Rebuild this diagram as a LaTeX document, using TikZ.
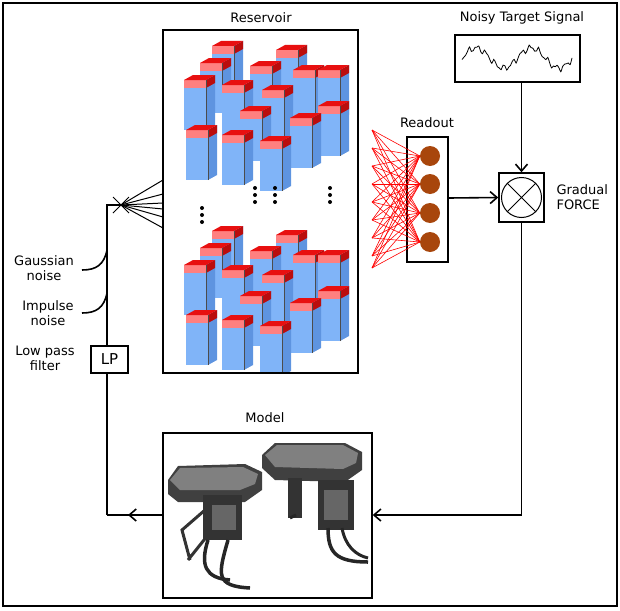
\documentclass[tikz,border=0pt]{standalone}
\usepackage{fontspec}
\setmainfont{DejaVu Sans}
\usetikzlibrary{arrows.meta}
\definecolor{bfront}{HTML}{80B4F8}
\definecolor{bside}{HTML}{5E94E0}
\definecolor{rtop}{HTML}{E81010}
\definecolor{rfront}{HTML}{FF8080}
\definecolor{brown}{HTML}{A8460C}
\newcommand{\prz}[2]{%
 \fill[bfront] (#1,#2+8) rectangle (#1+22,#2+58);
 \fill[bside] (#1+22,#2+8) -- (#1+31,#2+3) -- (#1+31,#2+53) -- (#1+22,#2+58) -- cycle;
 \fill[rfront] (#1,#2+8) rectangle (#1+22,#2+16);
 \fill[rtop!80!black] (#1+22,#2+8) -- (#1+31,#2+3) -- (#1+31,#2+11) -- (#1+22,#2+16) -- cycle;
 \fill[rtop] (#1,#2+8) -- (#1+9,#2+3) -- (#1+31,#2+3) -- (#1+22,#2+8) -- cycle;
 \draw[black!70,line width=0.4pt] (#1+22,#2+8) -- (#1+22,#2+58);}
\newcommand{\cluster}[1]{%
 \prz{212}{#1+38}\prz{276}{#1+42}\prz{250}{#1+58}\prz{200}{#1+55}
 \prz{293}{#1+62}\prz{318}{#1+62}\prz{184}{#1+72}\prz{222}{#1+77}
 \prz{262}{#1+82}\prz{318}{#1+98}\prz{290}{#1+110}\prz{240}{#1+103}
 \prz{186}{#1+122}\prz{222}{#1+127}\prz{260}{#1+133}}
\begin{document}
\begin{tikzpicture}[x=1pt,y=-1pt,
 box/.style={draw,line width=1.4pt},
 lab/.style={font=\fontsize{13}{15}\selectfont,align=center},
 ln/.style={line width=1.6pt},
 arr/.style={ln,-{Straight Barb[length=7pt,width=12pt]}}]
\useasboundingbox (0,0) rectangle (620,610);
\draw[line width=1.6pt] (3,3) rectangle (617,606);
% reservoir
\node[lab] (tres) at (261,18) {Reservoir};
\begin{scope}
\clip (163,30) rectangle (358,373);
\cluster{0}
\cluster{185}
\end{scope}
\node[box,minimum width=195pt,minimum height=343pt,inner sep=0] (res) at (260.5,201.5) {};
\foreach \x/\y in {202/215,255/195,275/195,330/195}{
 \foreach \d in {-7,0,7} \fill (\x,\y+\d) circle (2);}
% readout
\node[lab] (tro) at (427,123) {Readout};
\node[box,fill=white,minimum width=41pt,minimum height=125pt,inner sep=0] (ro) at (427.5,199.5) {};
\foreach \i/\y in {1/156,2/184,3/213,4/242}{
 \node[circle,fill=brown,minimum size=20pt,inner sep=0] (c\i) at (430,\y) {};
 \foreach \s in {130,148,166,184,202,220,238,256,268}
  \draw[red,line width=0.6pt] (372,\s) -- (c\i.west);}
% target
\node[lab] (tts) at (522,18) {Noisy Target Signal};
\node[box,minimum width=125pt,minimum height=47pt,inner sep=0] (ts) at (517.5,58.5) {};
\draw[line width=0.8pt] plot[smooth,domain=0:110,samples=60] ({462+\x},{58-10*sin(\x*6.5)+2.5*sin(\x*41)+1.5*cos(\x*73)});
% FORCE
\node[box,fill=white,minimum width=45pt,minimum height=49pt,inner sep=0] (f) at (521.5,197.5) {};
\node[draw,circle,minimum size=40pt,inner sep=0,line width=1pt] (fc) at (521.5,197.5) {};
\draw[line width=1pt] (fc.45) -- (fc.225) (fc.135) -- (fc.315);
\node[lab,align=left,anchor=west] (tf) at (553,197) {Gradual\\FORCE};
\draw[arr] (ro.east |- 0,198) -- (f.west);
\draw[arr] (ts.south -| f.north) -- (f.north);
% model
\node[lab] (tmod) at (265,418) {Model};
\node[box,minimum width=209pt,minimum height=165pt,inner sep=0] (mod) at (267.5,515.5) {};
\begin{scope}
\fill[black!75] (168,480) -- (178,466) -- (245,464) -- (262,472) -- (262,490) -- (245,502) -- (178,502) -- (168,494) -- cycle;
\fill[black!50] (170,480) -- (180,468) -- (243,467) -- (258,474) -- (255,484) -- (240,490) -- (180,490) -- cycle;
\fill[black!75] (262,455) -- (275,443) -- (345,443) -- (362,452) -- (362,470) -- (345,482) -- (275,480) -- (262,468) -- cycle;
\fill[black!50] (265,455) -- (277,445) -- (343,445) -- (358,453) -- (356,463) -- (343,469) -- (275,467) -- cycle;
\fill[black!80] (203,495) rectangle (242,540);
\fill[black!60] (212,505) rectangle (236,530);
\fill[black!80] (288,478) rectangle (302,518);
\fill[black!80] (318,480) rectangle (354,530);
\fill[black!60] (324,490) rectangle (348,520);
\draw[black!80,line width=3pt] (208,535) -- (188,560) (205,510) -- (182,530) -- (190,560);
\draw[black!85,line width=3.5pt] (228,540) .. controls (218,575) and (215,586) .. (250,588);
\draw[black!85,line width=3.5pt] (208,540) .. controls (200,565) and (205,578) .. (230,580);
\draw[black!85,line width=3pt] (296,515) -- (290,518);
\draw[black!85,line width=3.5pt] (328,528) .. controls (328,552) and (335,562) .. (368,562);
\draw[black!85,line width=3pt] (342,528) .. controls (345,545) and (355,555) .. (368,558);
\end{scope}
% feedback path
\coordinate (p1) at (521.5,515);
\draw[arr] (f.south) -- (p1) -- (mod.east |- p1);
\coordinate (p2) at (107,515);
\draw[ln] (mod.west |- p2) -- (p2);
\draw[arr] (mod.west |- p2) -- (128,515);
\node[box,minimum width=37pt,minimum height=27pt,inner sep=0,font=\fontsize{15}{17}\selectfont] (lp) at (109.5,359.5) {LP};
\draw[ln] (p2) -- (lp.south -| p2);
\coordinate (p3) at (107,205);
\coordinate (fan) at (121,205);
\draw[ln] (lp.north -| p3) -- (p3) -- (fan);
\draw[line width=1pt] (113,197) -- (129,213) (113,213) -- (129,197);
\foreach \y in {180,194,203,209,217,228}
 \draw[line width=1pt] (fan) -- (163,\y);
% noise labels
\draw[ln] (107,250) .. controls (104,265) and (96,270) .. (82,270);
\draw[ln] (107,293) .. controls (104,308) and (96,313) .. (82,313);
\node[lab] (gn) at (44,268) {Gaussian\\noise};
\node[lab] (in) at (48,313) {Impulse\\noise};
\node[lab] (lpf) at (45,358) {Low pass\\filter};
\end{tikzpicture}
\end{document}
